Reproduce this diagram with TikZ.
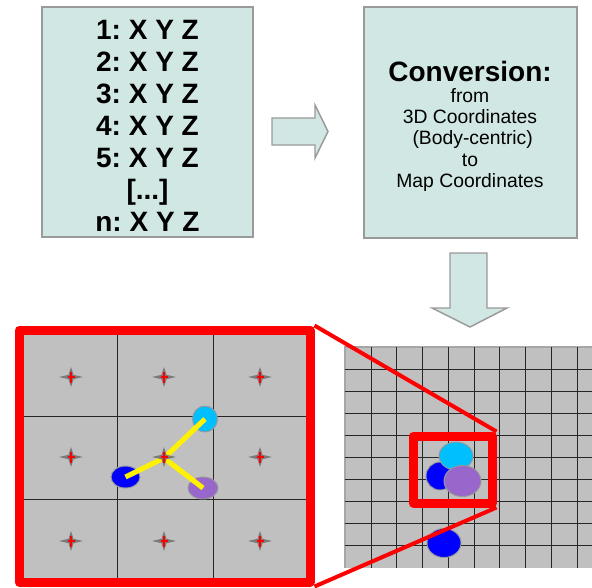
\documentclass[tikz,border=0pt]{standalone}
\usepackage{fontspec}
\setmainfont{Liberation Sans}
\usetikzlibrary{shapes.geometric}
\definecolor{boxfill}{HTML}{D0E7E4}
\definecolor{boxline}{HTML}{9A9A9A}
\definecolor{gridgrey}{HTML}{C0C0C0}
\definecolor{markgrey}{HTML}{7A7A7A}
\definecolor{cyanc}{HTML}{00BFFF}
\definecolor{bluec}{HTML}{0000FF}
\definecolor{purplec}{HTML}{9966CC}
\frenchspacing
\tikzset{
  infobox/.style={draw=boxline, line width=1.1pt, fill=boxfill, inner sep=0pt},
  blockarrow/.style={draw=boxline, line width=1.1pt, fill=boxfill, line join=miter},
  redframe/.style={draw=red, line width=6.75pt, line join=round},
  redlink/.style={draw=red, line width=3pt},
  gridline/.style={draw=black!85, line width=0.6pt},
  blob/.style={draw=gray!80, line width=0.7pt, ellipse, inner sep=0pt},
  yellowarm/.style={draw=yellow, line width=3.8pt},
  pics/marker/.style={code={
    \fill[markgrey] (-12,0) -- (-2.5,-2.2) -- (0,-10) -- (2.5,-2.2) -- (12,0) -- (2.5,2.2) -- (0,10) -- (-2.5,2.2) -- cycle;
    \draw[red, line width=1.4pt] (0,-5.5) -- (0,5.5);
    \draw[red, line width=1.2pt] (-3.5,0) -- (3.5,0);
  }}
}
\begin{document}
\begin{tikzpicture}[x=0.75pt,y=-0.75pt]
\useasboundingbox (0,0) rectangle (592,587);
% top boxes
\node[infobox, minimum width=211*0.75pt, minimum height=230*0.75pt] (list) at (147.5,122) {};
\node[align=center, font=\fontsize{21}{24}\selectfont\bfseries] (listtext) at (147.5,126)
  {1: X Y Z\\2: X Y Z\\3: X Y Z\\4: X Y Z\\5: X Y Z\\{[...]}\\n: X Y Z};
\node[infobox, minimum width=213*0.75pt, minimum height=231*0.75pt] (conv) at (470.5,122.5) {};
\node[font=\fontsize{21}{24}\selectfont\bfseries] (convtitle) at (470,71) {Conversion:};
\node[align=center, font=\fontsize{14.5}{16.1}\selectfont] (convtext) at (470,140)
  {from\\3D Coordinates\\\ (Body-centric)\\to\\Map Coordinates};
% block arrows
\draw[blockarrow] (272,118) -- (315,118) -- (315,105) -- (328,131.5) -- (315,158) -- (315,145) -- (272,145) -- cycle;
\draw[blockarrow] (450,253) -- (487,253) -- (487,308) -- (507,308) -- (470,327) -- (432,308) -- (450,308) -- cycle;
% right grid
\fill[gridgrey] (345,347) rectangle (592,568);
\draw[gray!70, line width=0.8pt] (345,568) -- (345,347) -- (592,347);
\foreach \i in {0,...,8} {
  \draw[gridline] ({371+25.75*\i},347) -- ({371+25.75*\i},568);
  \draw[gridline] (345,{369+22.1*\i}) -- (592,{369+22.1*\i});
}
\node[blob, fill=bluec, minimum width=28*0.75pt, minimum height=28*0.75pt] (mb1) at (440,476) {};
\node[blob, fill=bluec, minimum width=34*0.75pt, minimum height=29*0.75pt] (mb2) at (444,543) {};
\node[blob, fill=cyanc, minimum width=34*0.75pt, minimum height=28*0.75pt] (mc) at (456,456) {};
\node[blob, fill=purplec, minimum width=37*0.75pt, minimum height=31*0.75pt] (mp) at (462.5,481) {};
% small red frame
\node[draw=red, line width=6.75pt, line join=round, minimum width=79*0.75pt, minimum height=67*0.75pt, inner sep=0pt] (zoomframe) at (452.5,469.5) {};
% big zoom panel
\fill[gridgrey] (19,330) rectangle (310,582);
\draw[gridline] (117,330) -- (117,582);
\draw[gridline] (213,330) -- (213,582);
\draw[gridline] (19,416) -- (310,416);
\draw[gridline] (19,499) -- (310,499);
\node[blob, fill=cyanc, minimum width=25*0.75pt, minimum height=26*0.75pt] (zc) at (205,419) {};
\node[blob, fill=bluec, minimum width=29*0.75pt, minimum height=22*0.75pt] (zb) at (125.5,477) {};
\node[blob, fill=purplec, minimum width=30*0.75pt, minimum height=22*0.75pt] (zp) at (203,488) {};
\coordinate (hub) at (164,458);
\draw[yellowarm] (zb.center) -- (hub) -- (zc.center);
\draw[yellowarm] (hub) -- (zp.center);
\foreach \cx in {71,164,260} \foreach \cy in {377,457,541} {
  \pic at (\cx,\cy) {marker};
}
\node[redframe, draw, minimum width=291*0.75pt, minimum height=252*0.75pt, inner sep=0pt] (bigframe) at (164.5,456) {};
% connecting lines
\draw[redlink] (bigframe.north east) -- (zoomframe.north east);
\draw[redlink] (bigframe.south east) -- (zoomframe.south east);
\end{tikzpicture}
\end{document}
